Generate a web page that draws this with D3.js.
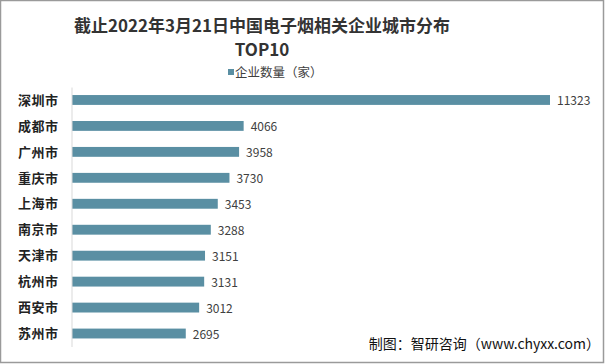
<!DOCTYPE html>
<html><head><meta charset="utf-8">
<script src="https://cdn.jsdelivr.net/npm/d3@7"></script>
<style>body{margin:0;background:#fff}svg{display:block}</style>
</head><body>
<script>
const cities = ["深圳市","成都市","广州市","重庆市","上海市","南京市","天津市","杭州市","西安市","苏州市"];
const counts = [11323,4066,3958,3730,3453,3288,3151,3131,3012,2695];
const seriesName = "企业数量（家）";
const titleLine1 = "截止2022年3月21日中国电子烟相关企业城市分布";
const titleLine2 = "TOP10";
const sourceText = "制图：智研咨询（www.chyxx.com）";

const W = 605, H = 364;
const svg = d3.select("body").append("svg").attr("width", W).attr("height", H);
const font = "'Noto Sans CJK SC','Noto Sans',sans-serif";

svg.append("rect").attr("x",0.5).attr("y",0.5).attr("width",W-2).attr("height",H-2)
  .attr("fill","#fff").attr("stroke","#9a9a9a").attr("stroke-width",1.5);

const x = d3.scaleLinear().domain([0, 11323]).range([72, 550]);
const y = d3.scaleBand().domain(cities).range([87, 346.5]).paddingInner(0.62).paddingOuter(0.31);

// title
svg.append("text").attr("x",262).attr("y",32).attr("text-anchor","middle")
  .attr("font-family",font).attr("font-weight","bold").attr("font-size",17)
  .attr("fill","#333").text(titleLine1);
svg.append("text").attr("x",262).attr("y",56).attr("text-anchor","middle")
  .attr("font-family",font).attr("font-weight","bold").attr("font-size",17)
  .attr("fill","#333").text(titleLine2);

// legend
const lg = svg.append("g");
lg.append("rect").attr("x",228).attr("y",69).attr("width",6).attr("height",6).attr("fill","#5a8fa3");
lg.append("text").attr("x",235).attr("y",77).attr("font-family",font).attr("font-size",12.5)
  .attr("fill","#404040").text(seriesName);

// bars
svg.selectAll("rect.bar").data(cities).enter().append("rect").attr("class","bar")
  .attr("x", x(0)).attr("y", d => y(d))
  .attr("width", (d,i) => x(counts[i]) - x(0)).attr("height", y.bandwidth())
  .attr("fill","#5a8fa3");

// value labels
svg.selectAll("text.val").data(cities).enter().append("text").attr("class","val")
  .attr("x", (d,i) => x(counts[i]) + 7).attr("y", d => y(d) + y.bandwidth()/2 + 5)
  .attr("font-family",font).attr("font-size",12).attr("fill","#404040")
  .text((d,i) => counts[i]);

// axis
const axis = d3.axisLeft(y).tickSize(0).tickPadding(13);
const ag = svg.append("g").attr("transform",`translate(${x(0)-0.5},0)`).call(axis);
ag.select(".domain").attr("stroke","#d9d9d9");
ag.selectAll("text").attr("font-family",font).attr("font-weight","bold").attr("font-size",13)
  .attr("letter-spacing",0.5).attr("fill","#222").attr("dy","0.36em");

// source
svg.append("text").attr("x",600).attr("y",349).attr("text-anchor","end")
  .attr("font-family",font).attr("font-size",14).attr("fill","#111").text(sourceText);
</script>
</body></html>
